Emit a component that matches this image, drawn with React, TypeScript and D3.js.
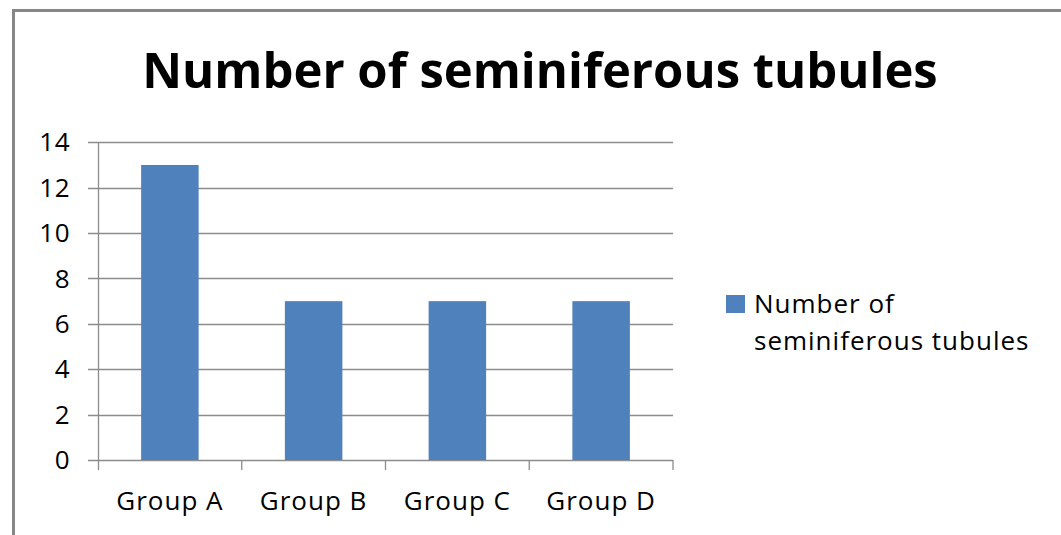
import React from "react";
import * as d3 from "d3";

const categories = ["Group A", "Group B", "Group C", "Group D"];
const values = [13, 7, 7, 7];
const yTicks = [0, 2, 4, 6, 8, 10, 12, 14];
const title = "Number of seminiferous tubules";
const legendLines = ["Number of", "seminiferous tubules"];

const W = 1061;
const H = 535;
const FONT = "'Open Sans', 'Liberation Sans', sans-serif";

export default function App() {
  const left = 98;
  const right = 673;
  const top = 142.3;
  const bottom = 460;
  const x = d3.scaleBand<string>().domain(categories).range([left, right]).paddingInner(0.6).paddingOuter(0.3);
  const xEdges = d3.scaleBand<string>().domain(categories).range([left, right]);
  const y = d3.scaleLinear().domain([0, 14]).range([bottom, top]);
  const grid = "#8c8c8c";
  return (
    <svg width={W} height={H} style={{ position: "absolute", left: 0, top: 0, display: "block", background: "#fff" }}>
      <rect x={13.5} y={10.5} width={1100} height={600} fill="#fff" stroke="#878787" strokeWidth={3} />
      <text x={540} y={88} textAnchor="middle" fontFamily={FONT} fontWeight="bold" fontSize={49} fill="#000">
        {title}
      </text>
      {yTicks.map((t) => (
        <g key={t}>
          <line x1={88} x2={right} y1={Math.round(y(t)) + 0.5} y2={Math.round(y(t)) + 0.5} stroke={grid} strokeWidth={1.3} />
          <text x={70} y={y(t)} dy="0.35em" textAnchor="end" fontFamily={FONT} fontSize={26} letterSpacing={0.5} fill="#000">
            {t}
          </text>
        </g>
      ))}
      <line x1={left + 0.5} x2={left + 0.5} y1={top} y2={bottom + 10} stroke={grid} strokeWidth={1.3} />
      {categories.map((c) => (
        <line key={"t" + c} x1={(xEdges(c) as number) + xEdges.bandwidth()} x2={(xEdges(c) as number) + xEdges.bandwidth()} y1={bottom} y2={bottom + 10} stroke={grid} strokeWidth={1.3} />
      ))}
      {categories.map((c, i) => (
        <rect key={c} x={x(c)} y={y(values[i])} width={x.bandwidth()} height={y(0) - y(values[i])} fill="#4F81BD" />
      ))}
      {categories.map((c) => (
        <text key={"l" + c} x={(x(c) as number) + x.bandwidth() / 2} y={510} textAnchor="middle" fontFamily={FONT} fontSize={26} letterSpacing={1} fill="#000">
          {c}
        </text>
      ))}
      <rect x={726} y={295} width={19} height={18} fill="#4F81BD" />
      {legendLines.map((l, i) => (
        <text key={l} x={754} y={313 + i * 37} fontFamily={FONT} fontSize={26} letterSpacing={1} fill="#000">
          {l}
        </text>
      ))}
    </svg>
  );
}
